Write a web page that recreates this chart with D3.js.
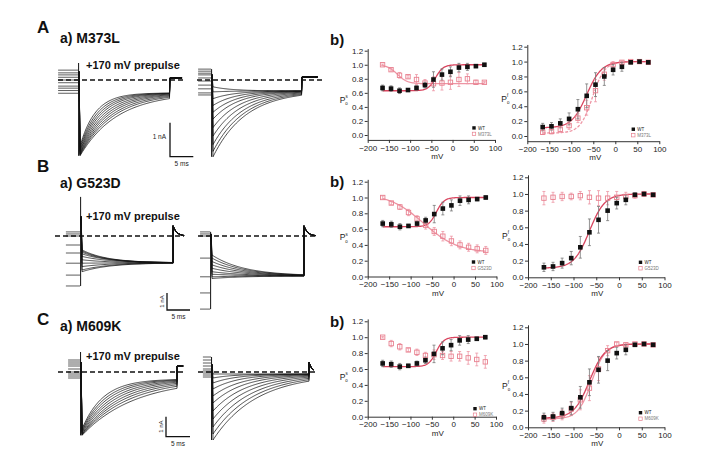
<!DOCTYPE html>
<html><head><meta charset="utf-8">
<script src="https://cdn.jsdelivr.net/npm/d3@7"></script>
<style>body{margin:0;background:#fff}svg{display:block;font-family:"Liberation Sans",Arial,sans-serif}</style>
</head><body><svg id="c" width="718" height="449"></svg>
<script>
// ---------------- DATA ----------------
const voltage = [-165,-145,-125,-105,-85,-65,-45,-25,-5,15,35,55,75];
const xTicks = [-200,-150,-100,-50,0,50,100];
const yTicks = [0,0.2,0.4,0.6,0.8,1.0,1.2];

const wtPoS    = [0.67,0.66,0.63,0.64,0.67,0.71,0.79,0.86,0.90,0.96,0.97,0.98,1.00];
const wtPoSErr = [0.04,0.04,0.04,0.02,0.03,0.04,0.11,0.08,0.07,0.06,0.05,0.02,0.02];
const wtPoF    = [0.12,0.13,0.17,0.23,0.36,0.54,0.69,0.80,0.89,0.93,0.99,1.00,0.99];
const wtPoFErr = [0.05,0.05,0.06,0.08,0.13,0.16,0.16,0.12,0.07,0.06,0.02,0.01,0.01];

const m373lPoS    = [1.00,0.93,0.85,0.83,0.79,0.74,0.73,0.74,0.75,0.79,0.80,0.75,0.75];
const m373lPoSErr = [0.01,0.02,0.04,0.02,0.07,0.05,0.10,0.10,0.10,0.10,0.07,0.03,0.01];
const m373lPoF    = [0.05,0.06,0.09,0.14,0.24,0.38,0.61,0.83,0.96,0.99,1.00,1.00,0.99];
const m373lPoFErr = [0.03,0.03,0.04,0.05,0.06,0.10,0.15,0.08,0.04,0.02,0.01,0.01,0.01];

const g523dPoS    = [1.00,0.93,0.88,0.81,0.73,0.65,0.57,0.51,0.45,0.40,0.37,0.35,0.33];
const g523dPoSErr = [0.02,0.02,0.03,0.04,0.04,0.05,0.05,0.06,0.06,0.05,0.05,0.05,0.05];
const g523dPoF    = [0.95,0.96,0.97,0.97,0.98,0.96,0.95,0.95,0.96,0.97,0.98,1.00,0.99];
const g523dPoFErr = [0.08,0.06,0.05,0.04,0.05,0.08,0.09,0.08,0.07,0.05,0.03,0.03,0.02];

const m609kPoS    = [1.00,0.92,0.88,0.84,0.81,0.77,0.78,0.77,0.76,0.76,0.74,0.72,0.69];
const m609kPoSErr = [0.01,0.04,0.04,0.02,0.04,0.04,0.06,0.05,0.06,0.06,0.08,0.08,0.08];
const m609kPoF    = [0.10,0.12,0.15,0.22,0.33,0.47,0.70,0.92,1.00,0.99,1.00,1.00,0.99];
const m609kPoFErr = [0.05,0.05,0.06,0.08,0.12,0.15,0.14,0.06,0.02,0.02,0.01,0.01,0.01];

// Boltzmann fit parameters [bottom, top, V1/2 (mV), slope k (mV)]
const fitWtS    = [0.63, 1.00, -40, 9];
const fitWtF    = [0.11, 1.00, -65, 17];
const fitM373LS = [0.73, 1.00, -130, -12];
const fitM373LF = [0.04, 1.00, -52, 14];
const fitG523DS = [0.30, 1.05, -70, -40];
const fitM609KF = [0.10, 1.00, -60, 15];

// Current traces (nA, ms). timing = [pre, pulse, tail]
const aPreLevels = [0.29,0.21,0.15,0.08,0,-0.08,-0.18,-0.24,-0.31,-0.39];
const aPrePeaks  = [-1.95,-2.0,-2.04,-2.08,-2.11,-2.14,-2.17,-2.19,-2.21,-2.23];
const aPreTaus   = [3.3,3.7,4.1,4.5,5.0,5.5,6.0,6.6,7.2,8.0];
const aPreTiming = [4.7,19.3,2.6];
const aCtlLevels = [0.32,0.26,0.2,0.15,0.06,-0.03,-0.15,-0.26,-0.38,-0.44];
const aCtlPeaks  = [-0.2,-0.35,-0.55,-0.75,-0.95,-1.15,-1.4,-1.65,-1.9,-2.1,-2.26];
const aCtlTaus   = [4.0,4.3,4.6,4.9,5.2,5.5,5.8,6.1,6.4,6.7,7.0];
const aCtlTiming = [3.2,19.1,3.4];

const bPreLevels = [0.24,0.12,0,-0.53,-1.0,-1.6,-2.3,-2.94];
const bPreStarts = [-0.82,-0.88,-0.95,-1.05,-1.2,-1.4,-1.6,-1.8,-2.0,-2.1];
const bPreTaus   = [5.5,5.5,5.5,6,6,6,6,6,6,6];
const bPreTiming = [3.5,19.8,2.4];
const bCtlLevels = [0.24,0.12,0,-1.3,-2.4,-3.35,-4.3];
const bCtlStarts = [-1.12,-1.3,-1.5,-1.7,-1.9,-2.1,-2.25,-2.4,-2.5];
const bCtlTaus   = [7,7,7,7,7,7,7,7,7];
const bCtlTiming = [2.6,20,2.6];

const cPreLevels = [0.6,0.5,0.4,0.3,0.15,0,-0.1,-0.2,-0.3];
const cPrePeaks  = [-2.85,-2.9,-2.95,-3.0,-3.05,-3.1,-3.12,-3.15,-3.17];
const cPreTaus   = [4.4,5.0,5.6,6.3,7.0,7.8,8.7,9.7,11];
const cPreTiming = [2.9,19.8,1.3];
const cCtlLevels = [0.75,0.6,0.45,0.3,0.15,0.05,-0.05,-0.15,-0.25];
const cCtlPeaks  = [-0.1,-0.3,-0.55,-0.85,-1.2,-1.55,-1.95,-2.35,-2.75,-3.1,-3.4];
const cCtlTaus   = [4,4.5,5,5.5,6,6.5,7,7.5,8,8.5,9];
const cCtlTiming = [2.1,20,0.9];

// ---------------- DRAW ----------------
const svg = d3.select('#c');
const FONT = '"Liberation Sans",Arial,sans-serif';
const RED = '#d9455f', PINK = '#ee95a4', PINK_PT = '#e8808f';

function txt(x, y, s, size, weight, anchor) {
  return svg.append('text').attr('x', x).attr('y', y).attr('font-size', size)
    .attr('font-weight', weight || 'normal').attr('text-anchor', anchor || 'start')
    .attr('fill', '#111').text(s);
}

function boltz(p) { return v => p[0] + (p[1] - p[0]) / (1 + Math.exp((p[2] - v) / p[3])); }

function drawPlot(L, wt, wtErr, mut, mutErr, fits, mutName, sup) {
  const k = (L.yZero - L.y12) / 1.2;
  const yMax = 1.23;
  const x = d3.scaleLinear().domain([-200, 100]).range([L.x0, L.x1]);
  const y = d3.scaleLinear().domain([L.yMin, yMax]).range([L.yZero - L.yMin * k, L.yZero - yMax * k]);
  const g = svg.append('g');
  const xa = g.append('g').attr('transform', `translate(0,${y(L.yMin)})`)
    .call(d3.axisBottom(x).tickValues(xTicks).tickSize(3).tickSizeOuter(0).tickPadding(2));
  const ya = g.append('g').attr('transform', `translate(${L.x0},0)`)
    .call(d3.axisLeft(y).tickValues(yTicks).tickFormat(d3.format('.1f')).tickSize(3).tickSizeOuter(0).tickPadding(1.5));
  [xa, ya].forEach(a => {
    a.select('.domain').attr('stroke', '#333').attr('stroke-width', 1);
    a.selectAll('line').attr('stroke', '#333');
    a.selectAll('text').attr('font-size', 8).attr('fill', '#222').attr('font-family', FONT);
  });
  // fits
  const vs = d3.range(-165, 75.5, 1.5);
  fits.forEach(f => {
    const fn = boltz(f.p);
    g.append('path').datum(vs).attr('fill', 'none').attr('stroke', f.c).attr('stroke-width', 1.3)
      .attr('stroke-dasharray', f.dash || null)
      .attr('d', d3.line().x(v => x(v)).y(v => y(fn(v))));
  });
  // error bars
  function errs(vals, e, col) {
    voltage.forEach((v, i) => {
      const cx = x(v);
      g.append('line').attr('x1', cx).attr('x2', cx).attr('y1', y(vals[i] - e[i])).attr('y2', y(vals[i] + e[i]))
        .attr('stroke', col).attr('stroke-width', 0.8);
      [vals[i] - e[i], vals[i] + e[i]].forEach(t =>
        g.append('line').attr('x1', cx - 1.5).attr('x2', cx + 1.5).attr('y1', y(t)).attr('y2', y(t))
          .attr('stroke', col).attr('stroke-width', 0.8));
    });
  }
  errs(mut, mutErr, PINK);
  errs(wt, wtErr, '#777');
  // points
  g.selectAll('.m').data(mut).join('rect').attr('x', (d, i) => x(voltage[i]) - 2.2).attr('y', d => y(d) - 2.2)
    .attr('width', 4.4).attr('height', 4.4).attr('fill', 'none').attr('stroke', PINK_PT).attr('stroke-width', 0.9);
  g.selectAll('.w').data(wt).join('rect').attr('x', (d, i) => x(voltage[i]) - 2.3).attr('y', d => y(d) - 2.3)
    .attr('width', 4.6).attr('height', 4.6).attr('fill', '#111');
  // legend
  const lx = L.x1 + L.leg[0], ly = y(L.yMin) + L.leg[1];
  g.append('rect').attr('x', lx - 1.7).attr('y', ly - 1.7).attr('width', 3.4).attr('height', 3.4).attr('fill', '#111');
  g.append('rect').attr('x', lx - 1.7).attr('y', ly + 4.3).attr('width', 3.4).attr('height', 3.4).attr('fill', 'none').attr('stroke', PINK_PT).attr('stroke-width', 0.7);
  g.append('text').attr('x', lx + 4).attr('y', ly + 1.7).attr('font-size', 4.5).attr('fill', '#222').text('WT');
  g.append('text').attr('x', lx + 4).attr('y', ly + 7.7).attr('font-size', 4.5).attr('fill', '#777').text(mutName);
  // axis titles
  g.append('text').attr('x', (L.x0 + L.x1) / 2 + L.mvdx).attr('y', y(L.yMin) + 19).attr('text-anchor', 'middle')
    .attr('font-size', 8).attr('fill', '#222').text('mV');
  const pl = g.append('text').attr('x', L.x0 + L.pdx).attr('y', y(0.5) + 3).attr('font-size', 8.5).attr('fill', '#222');
  pl.append('tspan').text('P');
  pl.append('tspan').attr('dy', 2.5).attr('font-size', 4.5).text('o');
  pl.append('tspan').attr('dy', -7).attr('dx', -2.5).attr('font-size', 4.5).text(sup);
}

function drawTraces(T, levels, peaks, taus, timing, steady, spikeTop, tailLevel, tailTau) {
  const [pre, pulse, tail] = timing;
  const x = d3.scaleLinear().domain([0, 1]).range([T.ox, T.ox + T.pxMs]);
  const y = d3.scaleLinear().domain([0, 1]).range([T.zy, T.zy - T.pxNA]);
  const g = svg.append('g').attr('fill', 'none');
  levels.forEach(l => g.append('line').attr('x1', x(-pre)).attr('x2', x(-0.4)).attr('y1', y(l)).attr('y2', y(l))
    .attr('stroke', '#333').attr('stroke-width', 0.8));
  const lo = d3.min(peaks.concat(levels));
  const hi = spikeTop != null ? spikeTop : d3.max(levels);
  g.append('line').attr('x1', x(-0.3)).attr('x2', x(-0.3)).attr('y1', y(hi)).attr('y2', y(lo))
    .attr('stroke', '#111').attr('stroke-width', 1);
  const ts = d3.range(0, pulse + 0.001, 0.2);
  const tt = d3.range(pulse, pulse + tail + 0.001, 0.1);
  peaks.forEach((p, i) => {
    const pts = [[-0.2, 0.5 * hi], [0, p]];
    ts.forEach(t => pts.push([t, steady + (p - steady) * Math.exp(-t / taus[i])]));
    tt.forEach(t => pts.push([t, tailLevel * Math.exp(-(t - pulse) / tailTau)]));
    g.append('path').datum(pts).attr('stroke', '#111').attr('stroke-width', 0.75)
      .attr('d', d3.line().x(d => x(d[0])).y(d => y(d[1])));
  });
  svg.append('line').attr('x1', T.dash[0]).attr('x2', T.dash[1]).attr('y1', y(0)).attr('y2', y(0))
    .attr('stroke', '#111').attr('stroke-width', 1.6).attr('stroke-dasharray', '5,3');
}

function scaleBar(B, vertText) {
  const g = svg.append('g');
  g.append('path').attr('fill', 'none').attr('stroke', '#111').attr('stroke-width', 1.3)
    .attr('d', `M${B.x},${B.y - B.h}V${B.y}H${B.x + B.w}`);
  g.append('text').attr('x', B.x + B.w / 2).attr('y', B.y + 9).attr('text-anchor', 'middle').attr('font-size', 6.5).attr('fill', '#222').text('5 ms');
  if (vertText) {
    g.append('text').attr('transform', `translate(${B.x - 3},${B.y - B.h / 2}) rotate(-90)`).attr('text-anchor', 'middle')
      .attr('font-size', 6).attr('fill', '#222').text('1 nA');
  } else {
    g.append('text').attr('x', B.x - 4).attr('y', B.y - B.h / 2 - 1).attr('text-anchor', 'end').attr('font-size', 6.5).attr('fill', '#222').text('1 nA');
  }
}

// Row A
txt(37, 33, 'A', 17, 'bold');
txt(60, 43, 'a) M373L', 14, 'bold');
txt(330, 45, 'b)', 15, 'bold');
drawTraces({ox: 80, zy: 80, pxMs: 4.66, pxNA: 34, dash: [58, 184]}, aPreLevels, aPrePeaks, aPreTaus, aPreTiming, -0.38, 0.5, 0.06, 1e9);
drawTraces({ox: 213, zy: 80, pxMs: 4.66, pxNA: 34, dash: [197, 322]}, aCtlLevels, aCtlPeaks, aCtlTaus, aCtlTiming, -0.32, null, 0.09, 1e9);
txt(86, 68.5, '+170 mV prepulse', 11, 'bold');
scaleBar({x: 170, y: 156.7, h: 34, w: 23.3}, false);

// Row B
txt(37, 172, 'B', 17, 'bold');
txt(60, 188, 'a) G523D', 14, 'bold');
txt(330, 187, 'b)', 15, 'bold');
drawTraces({ox: 82, zy: 236, pxMs: 4.6, pxNA: 17, dash: [55, 184]}, bPreLevels, bPreStarts, bPreTaus, bPreTiming, -1.58, 2.3, 0.6, 0.8);
drawTraces({ox: 212, zy: 236, pxMs: 4.6, pxNA: 17, dash: [198, 317]}, bCtlLevels, bCtlStarts, bCtlTaus, bCtlTiming, -2.35, null, 0.6, 0.8);
txt(86, 220, '+170 mV prepulse', 11, 'bold');
scaleBar({x: 167, y: 310, h: 17, w: 23}, true);

// Row C
txt(37, 325, 'C', 17, 'bold');
txt(60, 331, 'a) M609K', 14, 'bold');
txt(330, 327, 'b)', 15, 'bold');
drawTraces({ox: 82, zy: 372, pxMs: 4.8, pxNA: 20, dash: [58, 184]}, cPreLevels, cPrePeaks, cPreTaus, cPreTiming, -0.35, 1.0, 0.3, 1e9);
drawTraces({ox: 213, zy: 372, pxMs: 4.8, pxNA: 20, dash: [198, 317]}, cCtlLevels, cCtlPeaks, cCtlTaus, cCtlTiming, -0.1, null, 0.5, 0.6);
txt(86, 360, '+170 mV prepulse', 11, 'bold');
scaleBar({x: 166, y: 436.7, h: 20, w: 24}, true);

// Po plots
const leftA  = {x0: 367.7, x1: 495, yZero: 135, y12: 50.7, yMin: -0.07, leg: [-21, -12], mvdx: 6, pdx: -28};
const rightA = {x0: 527.3, x1: 659.3, yZero: 136, y12: 46.7, yMin: -0.07, leg: [-26, -12], mvdx: 2, pdx: -26};
const leftB  = {x0: 367.7, x1: 496.5, yZero: 276.5, y12: 181.7, yMin: 0, leg: [-23, -14.5], mvdx: 6, pdx: -28};
const rightB = {x0: 528, x1: 664.5, yZero: 277.3, y12: 177.3, yMin: 0, leg: [-24, -15], mvdx: 1, pdx: -26};
const leftC  = {x0: 367.7, x1: 496, yZero: 416.7, y12: 321.3, yMin: 0, leg: [-21, -8], mvdx: 6, pdx: -28};
const rightC = {x0: 528, x1: 664.5, yZero: 427.3, y12: 327.3, yMin: 0, leg: [-24, -14.6], mvdx: 1, pdx: -26};

drawPlot(leftA, wtPoS, wtPoSErr, m373lPoS, m373lPoSErr, [{p: fitM373LS, c: PINK}, {p: fitWtS, c: RED}], 'M373L', 's');
drawPlot(rightA, wtPoF, wtPoFErr, m373lPoF, m373lPoFErr, [{p: fitM373LF, c: PINK, dash: '3,1.5'}, {p: fitWtF, c: RED}], 'M373L', 'f');
drawPlot(leftB, wtPoS, wtPoSErr, g523dPoS, g523dPoSErr, [{p: fitG523DS, c: PINK}, {p: fitWtS, c: RED}], 'G523D', 's');
drawPlot(rightB, wtPoF, wtPoFErr, g523dPoF, g523dPoFErr, [{p: fitWtF, c: RED}], 'G523D', 'f');
drawPlot(leftC, wtPoS, wtPoSErr, m609kPoS, m609kPoSErr, [{p: fitWtS, c: RED}], 'M609K', 's');
drawPlot(rightC, wtPoF, wtPoFErr, m609kPoF, m609kPoFErr, [{p: fitM609KF, c: PINK}, {p: fitWtF, c: RED}], 'M609K', 'f');
</script></body></html>
